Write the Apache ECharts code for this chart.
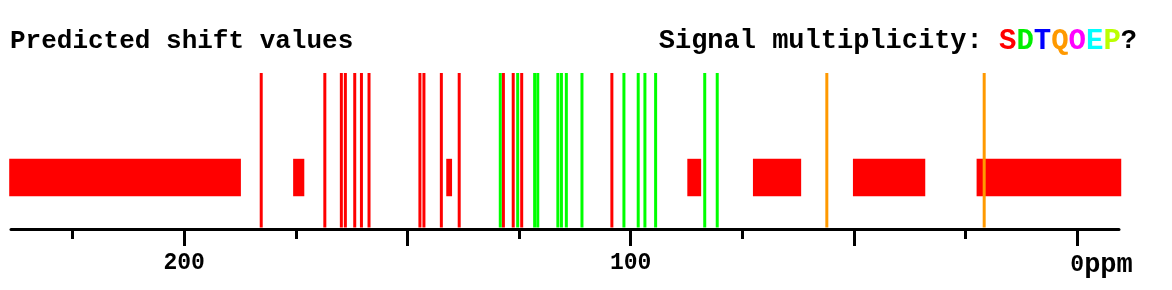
<!DOCTYPE html>
<html>
<head>
<meta charset="utf-8">
<script src="https://cdn.jsdelivr.net/npm/echarts@6/dist/echarts.min.js"></script>
<style>html,body{margin:0;padding:0;background:#fff}#c{width:1172px;height:290px}</style>
</head>
<body>
<div id="c"></div>
<script>
// ---- data (ppm) ----
const xMin = -9.4, xMax = 238.8;
const majorTicks = [200, 150, 100, 50, 0];
const minorTicks = [225, 175, 125, 75, 25];
const tickLabels = [200, 100, 0];
// singlet-like (red) signal lines
const redLines = [182.75, 168.5, 164.8, 163.9, 161.8, 160.3, 158.6, 147.2, 146.3, 142.4, 138.4, 128.5, 126.3, 124.4, 104.2];
// doublet (green) signal lines
const greenLines = [129.2, 125.3, 121.5, 120.8, 116.3, 115.5, 114.4, 110.9, 101.5, 98.3, 96.8, 94.4, 83.4, 80.6];
// quartet (orange) signal lines
const orangeLines = [56.05, 20.8];
// red ranges [from, to]
const redRanges = [[239.2, 187.3], [175.6, 173.1], [141.3, 140.0], [87.3, 84.2], [72.6, 61.8], [50.2, 34.0], [22.5, -9.9]];

const FONT = "'Liberation Mono', 'Courier New', monospace";
const BOX_LO = 0.21, BOX_HI = 0.45;

function lineSeries(vals, color) {
  return {
    type: 'custom',
    xAxisIndex: 0, yAxisIndex: 0,
    data: vals.map(v => [v, 1]),
    encode: { x: 0, y: 1 },
    silent: true,
    clip: false,
    renderItem: function (params, api) {
      const top = api.coord([api.value(0), 1]);
      const bot = api.coord([api.value(0), 0]);
      return {
        type: 'line',
        shape: { x1: top[0], y1: top[1], x2: bot[0], y2: bot[1] - 1.5 },
        style: { stroke: color, lineWidth: 3 }
      };
    }
  };
}

function letter(color) {
  return { color: color, fontFamily: FONT, fontSize: 29, fontWeight: 'bold' };
}

const chart = echarts.init(document.getElementById('c'), null, { renderer: 'canvas' });
chart.setOption({
  animation: false,
  backgroundColor: '#fff',
  title: [
    {
      text: 'Predicted shift values', left: 10, top: 28, padding: 0,
      textStyle: { fontFamily: FONT, fontSize: 26, fontWeight: 'bold', color: '#000' }
    },
    {
      text: '{k|Signal multiplicity: }{s|S}{d|D}{t|T}{q|Q}{o|O}{e|E}{p|P}{k|?}', right: 35, top: 27, padding: 0,
      textStyle: {
        fontFamily: FONT, fontSize: 27, fontWeight: 'bold', color: '#000',
        rich: {
          k: { color: '#000', fontFamily: FONT, fontSize: 27, fontWeight: 'bold' },
          s: letter('#ff0000'),
          d: letter('#00ee00'),
          t: letter('#0000ff'),
          q: letter('#ff9900'),
          o: letter('#ff00ff'),
          e: letter('#00ffff'),
          p: letter('#bbff00')
        }
      }
    }
  ],
  grid: { left: 11, right: 53, top: 73, bottom: 61 },
  xAxis: [
    {
      type: 'value', inverse: true, min: xMin, max: xMax,
      splitLine: { show: false },
      axisLine: { show: true, lineStyle: { color: '#000', width: 3 } },
      axisTick: { show: true, customValues: majorTicks, length: 17, lineStyle: { color: '#000', width: 3 } },
      axisLabel: {
        customValues: tickLabels, margin: 23,
        fontFamily: FONT, fontSize: 23, fontWeight: 'bold', color: '#000',
        formatter: function (v) {
          return v === 0 ? '{pad|}{n|0}{u|ppm}' : '{n|' + v + '}';
        },
        rich: {
          n: { fontFamily: FONT, fontSize: 23, fontWeight: 'bold', color: '#000' },
          u: { fontFamily: FONT, fontSize: 27, fontWeight: 'bold', color: '#000' },
          pad: { width: 49 }
        }
      }
    },
    {
      type: 'value', inverse: true, min: xMin, max: xMax, position: 'bottom',
      splitLine: { show: false },
      axisLine: { show: false },
      axisTick: { show: true, customValues: minorTicks, length: 10, lineStyle: { color: '#000', width: 3 } },
      axisLabel: { show: false }
    }
  ],
  yAxis: { type: 'value', min: 0, max: 1, show: false },
  series: [
    {
      type: 'custom',
      data: redRanges.map(r => [r[0], r[1]]),
      encode: { x: [0, 1] },
      silent: true,
      clip: false,
      renderItem: function (params, api) {
        const p0 = api.coord([api.value(0), BOX_HI]);
        const p1 = api.coord([api.value(1), BOX_LO]);
        return {
          type: 'rect',
          shape: { x: p0[0], y: p0[1], width: p1[0] - p0[0], height: p1[1] - p0[1] },
          style: { fill: '#ff0000' }
        };
      }
    },
    lineSeries(redLines, '#ff0000'),
    lineSeries(greenLines, '#00ff00'),
    lineSeries(orangeLines, '#ff9900')
  ]
});
</script>
</body>
</html>
